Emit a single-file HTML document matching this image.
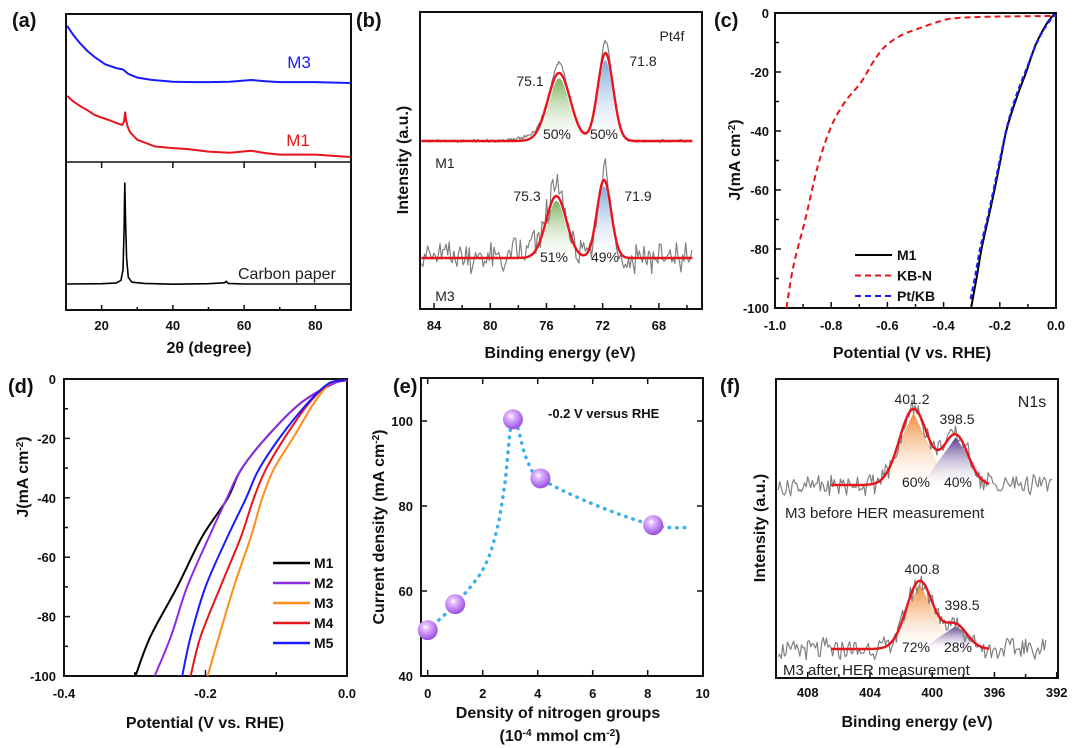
<!DOCTYPE html>
<html><head><meta charset="utf-8"><style>
html,body{margin:0;padding:0;background:#fff;}
svg{display:block;font-family:"Liberation Sans",Arial,sans-serif;}
.tk{font-weight:bold;font-size:13px;fill:#111;}
.tt{font-weight:bold;font-size:16px;fill:#111;}
.pl{font-weight:bold;font-size:20px;fill:#111;}
.an{font-size:14px;fill:#222;}
.lg{font-weight:bold;font-size:14px;fill:#111;}
</style></head><body>
<svg id="fig" width="1080" height="748" viewBox="0 0 1080 748">
<defs>
<linearGradient id="gGreen" x1="0" y1="0" x2="0" y2="1"><stop offset="0" stop-color="#6fa84a" stop-opacity="0.9"/><stop offset="1" stop-color="#ffffff" stop-opacity="0.2"/></linearGradient>
<linearGradient id="gBlue" x1="0" y1="0" x2="0" y2="1"><stop offset="0" stop-color="#6f9fd6" stop-opacity="0.9"/><stop offset="1" stop-color="#ffffff" stop-opacity="0.2"/></linearGradient>
<linearGradient id="gOrange" x1="0" y1="0" x2="0" y2="1"><stop offset="0" stop-color="#f08228" stop-opacity="0.95"/><stop offset="1" stop-color="#ffffff" stop-opacity="0.2"/></linearGradient>
<linearGradient id="gPurple" x1="0" y1="0" x2="0" y2="1"><stop offset="0" stop-color="#4e3188" stop-opacity="0.95"/><stop offset="1" stop-color="#ffffff" stop-opacity="0.2"/></linearGradient>
<radialGradient id="gBall" cx="0.4" cy="0.35" r="0.65"><stop offset="0" stop-color="#ffffff"/><stop offset="0.25" stop-color="#e2b8ff"/><stop offset="1" stop-color="#9a4fe0"/></radialGradient>
</defs>
</svg>
<script>
// ---------- DATA ----------
// (a) XRD
const xrdM3X=[10.3,12,14,16,18,21,24,26,27.5,30,34,40,46,50,56,62,66,70,80,89.8];
const xrdM3Y=[92,86,80,75,71,66,63.5,62.5,59.5,57,55.5,54.2,54,54,54.2,55.4,54.6,54,54,53.4];
const xrdM1X=[10.3,12,14,16,18,20,22,24,25.8,26.3,26.6,26.9,27.3,28,30,35,40,44,50,56,62,66,70,80,89.8];
const xrdM1Y=[44.6,41,37.8,35,31.8,30,28.4,26.5,25,27.5,33.5,28,24,20,15,10.5,9.4,8.8,7,6.2,7.6,6,5,5,3.4];
const xrdCPX=[10.3,20,24,25.4,26,26.3,26.5,26.7,27,27.5,28.5,32,40,50,54.5,55,55.5,60,89.8];
const xrdCPY=[17.6,17.8,18.2,20,27,55,85.8,62,35,22,18.8,18,17.4,17.8,18.4,19.4,18,17.6,17.6];
const xrdTicks=[20,40,60,80];
// (b) Pt4f XPS fits
const ptCentersM1=[75.1,71.8], ptAmpM1=[68,88], ptSigM1=[0.8,0.55], ptBaseM1=167;
const ptCentersM3=[75.3,71.9], ptAmpM3=[62,78], ptSigM3=[0.72,0.5], ptBaseM3=50;
const ptTicks=[84,80,76,72,68], ptMinor=[82,78,74,70,66];
// (c) LSV
const cM1V=[-0.302,-0.283,-0.265,-0.242,-0.219,-0.198,-0.177,-0.155,-0.13,-0.106,-0.085,-0.069,-0.045,-0.025,-0.008,0];
const cM1J=[-100,-90,-80,-70,-60,-50,-40,-33,-26,-20,-14,-10,-5.5,-2.5,-0.6,-0.3];
const cKBNV=[-0.959,-0.935,-0.891,-0.848,-0.80,-0.75,-0.696,-0.65,-0.609,-0.55,-0.486,-0.42,-0.364,-0.25,-0.1,0];
const cKBNJ=[-100,-86,-69.5,-52,-38.5,-30,-23.8,-16.5,-11.4,-7.5,-5.2,-3,-1.8,-1.3,-1.1,-1.0];
const cPtV=[-0.304,-0.287,-0.27,-0.245,-0.222,-0.2,-0.178,-0.155,-0.13,-0.105,-0.085,-0.068,-0.045,-0.025,-0.01,0];
const cPtJ=[-97,-89,-80,-70,-60,-50,-40,-32,-25,-19,-14,-10,-5.8,-3,-1.2,-0.5];
const cYTicks=[0,-20,-40,-60,-80,-100], cXTicks=[-1.0,-0.8,-0.6,-0.4,-0.2,0.0];
// (d) LSV M1-M5
const dJ=[-100,-86.8,-70,-53.2,-40.3,-30.6,-19.4,-8.2,-1.5,-0.5];
const dM1=[-0.299,-0.278,-0.24,-0.205,-0.169,-0.150,-0.113,-0.066,-0.019,0];
const dM2=[-0.272,-0.249,-0.226,-0.195,-0.170,-0.150,-0.113,-0.066,-0.019,0];
const dM3=[-0.197,-0.181,-0.160,-0.136,-0.120,-0.104,-0.075,-0.047,-0.024,-0.004];
const dM4=[-0.221,-0.207,-0.179,-0.150,-0.132,-0.115,-0.087,-0.054,-0.025,-0.004];
const dM5=[-0.233,-0.221,-0.200,-0.169,-0.143,-0.125,-0.094,-0.056,-0.026,-0.004];
const dNames=['M1','M2','M3','M4','M5'];
const dColors=['#000000','#8b2be2','#ff8c1a','#e8141c','#1a1aff'];
const dXTicks=[-0.4,-0.2,0.0], dYTicks=[0,-20,-40,-60,-80,-100];
// (e) current density vs N density
const eDensity=[0,1,3.1,4.1,8.2];
const eCurrent=[50.8,56.9,100.4,86.5,75.5];
const eTrendX=[0,1,2,2.5,2.8,3.1,3.6,4.1,6,8.2,9.5];
const eTrendY=[50.8,56.9,65,74,85,100.4,91,86.5,80.5,75.5,74.9];
const eXTicks=[0,2,4,6,8,10], eYTicks=[40,60,80,100];
// (f) N1s XPS
const nCentersTop=[401.2,398.5], nAmpTop=[76,50], nSigTop=[0.9,0.8], nBaseTop=193;
const nCentersBot=[400.8,398.5], nAmpBot=[68,24], nSigBot=[0.85,0.75], nBaseBot=29;
const nTicks=[408,404,400,396,392];

// ---------- HELPERS ----------
const NS='http://www.w3.org/2000/svg';
const svg=document.getElementById('fig');
function mk(tag,attrs,parent){const e=document.createElementNS(NS,tag);for(const k in attrs)e.setAttribute(k,attrs[k]);(parent||svg).appendChild(e);return e;}
function lin(d0,d1,r0,r1){return v=>r0+(v-d0)*(r1-r0)/(d1-d0);}
function poly(xs,ys,sx,sy){return 'M'+xs.map((x,i)=>sx(x).toFixed(1)+','+sy(ys[i]).toFixed(1)).join(' L');}
function smooth(xs,ys,sx,sy){const P=xs.map((x,i)=>[sx(x),sy(ys[i])]);let d='M'+P[0][0].toFixed(1)+','+P[0][1].toFixed(1);
 for(let i=0;i<P.length-1;i++){const p0=P[Math.max(i-1,0)],p1=P[i],p2=P[i+1],p3=P[Math.min(i+2,P.length-1)];
 const c1=[p1[0]+(p2[0]-p0[0])/6,p1[1]+(p2[1]-p0[1])/6],c2=[p2[0]-(p3[0]-p1[0])/6,p2[1]-(p3[1]-p1[1])/6];
 d+=' C'+c1.map(v=>v.toFixed(1)).join(',')+' '+c2.map(v=>v.toFixed(1)).join(',')+' '+p2.map(v=>v.toFixed(1)).join(',');}return d;}
function noise(i,seed){const s=Math.sin(i*12.9898+seed*78.233)*43758.5453;return s-Math.floor(s)-0.5;}
function gauss(x,c,a,s){return a*Math.exp(-(x-c)*(x-c)/(2*s*s));}
function txt(x,y,str,cls,anchor,name,parent){const t=mk('text',{x:x,y:y,class:cls,'text-anchor':anchor||'start'},parent);t.textContent=str;
 
 
 return t;}
function frame(x0,y0,x1,y1,name){const r=mk('rect',{x:x0,y:y0,width:x1-x0,height:y1-y0,fill:'none',stroke:'#111','stroke-width':2});
 
 }
function tick(x1,y1,x2,y2,name){const l=mk('line',{x1:x1,y1:y1,x2:x2,y2:y2,stroke:'#111','stroke-width':1.5});
 
 }
function line(d,color,w,dash,name){const p=mk('path',{d:d,fill:'none',stroke:color,'stroke-width':w,'stroke-linejoin':'round'});
 if(dash)p.setAttribute('stroke-dasharray',dash);
 
 
 return p;}
function vlabel(x,y,parts,name){const t=mk('text',{x:x,y:y,class:'tt','text-anchor':'middle',transform:'rotate(-90 '+x+' '+y+')'});
 parts.forEach(p=>{const s=mk('tspan',p.sup?{'baseline-shift':'super','font-size':'10px'}:{},t);s.textContent=p.t;});
 
 }
function fmt(v,d){return (v<0?'-':'')+Math.abs(v).toFixed(d);}

// ---------- (a) ----------
(function(){
 const sx=lin(10,90,66,351), syU=v=>162-v*1.48, syL=v=>310-v*1.48;
 frame(66,14,351,310,'xrd-frame');
 tick(66,162,351,162,'xrd-divider');
 xrdTicks.forEach(v=>{tick(sx(v),162,sx(v),168,'xrd-divider-tick');tick(sx(v),310,sx(v),305,'xrd-x-tick');txt(sx(v),330,String(v),'tk','middle','xrd-x-tick-label');});
 [30,50,70].forEach(v=>{tick(sx(v),310,sx(v),307,'xrd-x-minor-tick');});
 line(poly(xrdM3X,xrdM3Y,sx,syU),'#1a1aff',2,null,'xrd-m3-line');
 line(poly(xrdM1X,xrdM1Y,sx,syU),'#e8141c',2,null,'xrd-m1-line');
 line(poly(xrdCPX,xrdCPY,sx,syL),'#000',1.6,null,'xrd-carbon-paper-line');
 const t1=txt(299,68,'M3','an','middle','xrd-m3-label');t1.style.fill='#1a1aff';t1.style.fontSize='17px';
 const t2=txt(298,146,'M1','an','middle','xrd-m1-label');t2.style.fill='#e8141c';t2.style.fontSize='17px';
 const t3=txt(238,279,'Carbon paper','an','start','xrd-carbon-paper-label');t3.style.fontSize='16px';
 txt(209,353,'2θ (degree)','tt','middle','xrd-x-axis-title');
 txt(12,27,'(a)','pl','start','panel-a-label');
})();

// ---------- (b) ----------
(function(){
 const sx=lin(85,65,420,701), sy=v=>308-v;
 frame(420,12,702,309,'pt4f-frame');
 ptTicks.forEach(v=>{tick(sx(v),309,sx(v),303,'pt4f-x-tick');txt(sx(v),330,String(v),'tk','middle','pt4f-x-tick-label');});
 ptMinor.forEach(v=>{tick(sx(v),309,sx(v),305,'pt4f-x-minor-tick');});
 function spectrum(C,A,S,base,noiseAmp,seed,tag,step){
  const fx=[],fy=[],rx=[],ry=[];
  for(let x=84.9;x>=65.6;x-=0.04){let f=base;for(let k=0;k<C.length;k++)f+=gauss(x,C[k],A[k],S[k]);fx.push(x);fy.push(f);}
  for(let x=84.9,i=0;x>=65.6;x-=step,i++){let f=base;for(let k=0;k<C.length;k++)f+=gauss(x,C[k],A[k],S[k]);
   let r=f+noiseAmp*(noise(i,seed)+0.6*noise(i+7,seed+3))+gauss(x,C[1],12,0.22)+gauss(x,C[0],10,0.3)+gauss(x,77,noiseAmp>5?6:4,0.9);
   rx.push(x);ry.push(r);}
  const fills=['url(#gGreen)','url(#gBlue)'];
  for(let k=0;k<C.length;k++){let d='M'+sx(C[k]+2.6).toFixed(1)+','+sy(base).toFixed(1);
   for(let x=C[k]+2.6;x>=C[k]-2.6;x-=0.05)d+=' L'+sx(x).toFixed(1)+','+sy(base+gauss(x,C[k],A[k]*0.92,S[k]*0.9)).toFixed(1);
   d+=' Z';const p=mk('path',{d:d,fill:fills[k],stroke:'none'});
   
   }
  line(poly(rx,ry,sx,sy),'#808080',1.2,null,'pt4f-'+tag+'-raw-spectrum');
  line(poly(fx,fy,sx,sy),'#e8141c',2.4,null,'pt4f-'+tag+'-fit');
 }
 spectrum(ptCentersM1,ptAmpM1,ptSigM1,ptBaseM1,2.5,1,'m1',0.06);
 spectrum(ptCentersM3,ptAmpM3,ptSigM3,ptBaseM3,26,2,'m3',0.11);
 txt(672,41,'Pt4f','an','middle','pt4f-title');
 txt(643,66,'71.8','an','middle','pt4f-m1-peak-718');
 txt(530,86,'75.1','an','middle','pt4f-m1-peak-751');
 txt(557,139,'50%','an','middle','pt4f-m1-pct-751');
 txt(604,139,'50%','an','middle','pt4f-m1-pct-718');
 txt(445,168,'M1','an','middle','pt4f-m1-label');
 txt(527,201,'75.3','an','middle','pt4f-m3-peak-753');
 txt(638,201,'71.9','an','middle','pt4f-m3-peak-719');
 txt(554,262,'51%','an','middle','pt4f-m3-pct-753');
 txt(605,262,'49%','an','middle','pt4f-m3-pct-719');
 txt(445,301,'M3','an','middle','pt4f-m3-label');
 vlabel(408,160,[{t:'Intensity (a.u.)'}],'pt4f-y-axis-title');
 txt(560,358,'Binding energy (eV)','tt','middle','pt4f-x-axis-title');
 txt(356,27,'(b)','pl','start','panel-b-label');
})();

// ---------- (c) ----------
(function(){
 const sx=lin(-1,0,775,1056), sy=lin(0,-100,13,308);
 frame(775,13,1056,308,'lsv-c-frame');
 cXTicks.forEach(v=>{tick(sx(v),308,sx(v),302,'lsv-c-x-tick');txt(sx(v),330,fmt(v,1),'tk','middle','lsv-c-x-tick-label');});
 cXTicks.slice(0,-1).forEach(v=>{tick(sx(v+0.1),308,sx(v+0.1),304,'lsv-c-x-minor-tick');});
 cYTicks.forEach(v=>{tick(775,sy(v),781,sy(v),'lsv-c-y-tick');txt(769,sy(v)+5,String(v),'tk','end','lsv-c-y-tick-label');});
 cYTicks.slice(0,-1).forEach(v=>{tick(775,sy(v-10),779,sy(v-10),'lsv-c-y-minor-tick');});
 line(smooth(cKBNV,cKBNJ,sx,sy),'#e8141c',2,'6 4','lsv-c-kbn-line');
 line(smooth(cM1V,cM1J,sx,sy),'#000',2,null,'lsv-c-m1-line');
 line(smooth(cPtV,cPtJ,sx,sy),'#1a1aff',2.2,'5 3','lsv-c-ptkb-line');
 const L=[['M1','#000',null],['KB-N','#e8141c','6 4'],['Pt/KB','#1a1aff','6 4']];
 L.forEach((r,i)=>{const y=255+i*20.5;line('M855,'+y+' L892,'+y,r[1],2,r[2],'legend-line-'+r[0].toLowerCase());txt(897,y+5,r[0],'lg','start','legend-entry-'+r[0].toLowerCase());});
 vlabel(740,160,[{t:'J(mA cm'},{t:'-2',sup:true},{t:')'}],'lsv-c-y-axis-title');
 txt(912,358,'Potential (V vs. RHE)','tt','middle','lsv-c-x-axis-title');
 txt(714,27,'(c)','pl','start','panel-c-label');
})();

// ---------- (d) ----------
(function(){
 const sx=lin(-0.4,0,64,347), sy=lin(0,-100,379,676);
 frame(64,379,347,676,'lsv-d-frame');
 dXTicks.forEach(v=>{tick(sx(v),676,sx(v),670,'lsv-d-x-tick');txt(sx(v),698,fmt(v,1),'tk','middle','lsv-d-x-tick-label');});
 [-0.3,-0.1].forEach(v=>{tick(sx(v),676,sx(v),672,'lsv-d-x-minor-tick');});
 dYTicks.forEach(v=>{tick(64,sy(v),70,sy(v),'lsv-d-y-tick');txt(56,sy(v)+5,String(v),'tk','end','lsv-d-y-tick-label');});
 dYTicks.slice(0,-1).forEach(v=>{tick(64,sy(v-10),68,sy(v-10),'lsv-d-y-minor-tick');});
 const series=[dM1,dM2,dM3,dM4,dM5];
 series.forEach((s,i)=>{line(smooth(s,dJ,sx,sy),dColors[i],2,null,'lsv-d-'+dNames[i].toLowerCase()+'-line');});
 dNames.forEach((n,i)=>{const y=563+i*20;line('M273,'+y+' L310,'+y,dColors[i],2.5,null,'legend-line-d-'+n.toLowerCase());txt(314,y+5,n,'lg','start','legend-entry-d-'+n.toLowerCase());});
 vlabel(28,477,[{t:'J(mA cm'},{t:'-2',sup:true},{t:')'}],'lsv-d-y-axis-title');
 txt(205,728,'Potential (V vs. RHE)','tt','middle','lsv-d-x-axis-title');
 txt(8,393,'(d)','pl','start','panel-d-label');
})();

// ---------- (e) ----------
(function(){
 const sx=lin(0,10,427.7,702.7), sy=lin(40,100,676,421);
 frame(421,378,703,676,'density-frame');
 eXTicks.forEach(v=>{tick(sx(v),676,sx(v),670,'density-x-tick');tick(sx(v),378,sx(v),384,'density-x-top-tick');txt(sx(v),698,String(v),'tk','middle','density-x-tick-label');});
 eYTicks.forEach(v=>{tick(421,sy(v),427,sy(v),'density-y-tick');tick(703,sy(v),697,sy(v),'density-y-right-tick');txt(413,sy(v)+5,String(v),'tk','end','density-y-tick-label');});
 line(smooth(eTrendX,eTrendY,sx,sy),'#3cb0ec',3.5,'0.5 7','density-trend-line').setAttribute('stroke-linecap','round');
 eDensity.forEach((v,i)=>{const c=mk('circle',{cx:sx(v),cy:sy(eCurrent[i]),r:10,fill:'url(#gBall)'});
  
  });
 txt(548,418,'-0.2 V versus RHE','tk','start','density-annotation');
 vlabel(384,527,[{t:'Current density (mA cm'},{t:'-2',sup:true},{t:')'}],'density-y-axis-title');
 txt(558,718,'Density of nitrogen groups','tt','middle','density-x-axis-title');
 const t=mk('text',{x:560,y:741,class:'tt','text-anchor':'middle'});
 [['(10'],['-4',1],[' mmol cm'],['-2',1],[')']].forEach(p=>{const s=mk('tspan',p[1]?{'baseline-shift':'super','font-size':'10px'}:{},t);s.textContent=p[0];});
 
 
 txt(393,393,'(e)','pl','start','panel-e-label');
})();

// ---------- (f) ----------
(function(){
 const sx=lin(410,392,776.6,1056.7), sy=v=>678-v;
 frame(776,379,1058,678,'n1s-frame');
 nTicks.forEach(v=>{tick(sx(v),678,sx(v),672,'n1s-x-tick');txt(sx(v),697,String(v),'tk','middle','n1s-x-tick-label');});
 [406,402,398,394].forEach(v=>{tick(sx(v),678,sx(v),674,'n1s-x-minor-tick');});
 function spectrum(C,A,S,base,seed,x1,tag){
  const fills=['url(#gOrange)','url(#gPurple)'];
  for(let k=0;k<C.length;k++){let d='M'+sx(C[k]+2.2).toFixed(1)+','+sy(base).toFixed(1);
   for(let x=C[k]+2.2;x>=C[k]-2.2;x-=0.05)d+=' L'+sx(x).toFixed(1)+','+sy(base+Math.max(0,A[k]*0.95*(1-Math.abs(x-C[k])/2.2))).toFixed(1);
   d+=' Z';const p=mk('path',{d:d,fill:fills[k],stroke:'none'});
   
   }
  const rx=[],ry=[],fx=[],fy=[];
  for(let x=409.9,i=0;x>=x1;x-=0.1,i++){let f=base;for(let k=0;k<C.length;k++)f+=gauss(x,C[k],A[k],S[k]);
   rx.push(x);ry.push(f+17*(noise(i,seed)+0.5*noise(i+5,seed+9)));}
  for(let x=406.5;x>=396.3;x-=0.04){let f=base;for(let k=0;k<C.length;k++)f+=gauss(x,C[k],A[k],S[k]);fx.push(x);fy.push(f);}
  line(poly(rx,ry,sx,sy),'#808080',1.2,null,'n1s-'+tag+'-raw-spectrum');
  line(poly(fx,fy,sx,sy),'#e8141c',2.4,null,'n1s-'+tag+'-fit');
 }
 spectrum(nCentersTop,nAmpTop,nSigTop,nBaseTop,4,392.2,'before');
 spectrum(nCentersBot,nAmpBot,nSigBot,nBaseBot,5,392.6,'after');
 txt(1032,407,'N1s','an','middle','n1s-title').style.fontSize='16px';
 txt(912,404,'401.2','an','middle','n1s-before-peak-4012');
 txt(957,424,'398.5','an','middle','n1s-before-peak-3985');
 txt(916,487,'60%','an','middle','n1s-before-pct-4012');
 txt(958,487,'40%','an','middle','n1s-before-pct-3985');
 txt(785,518,'M3 before HER measurement','an','start','n1s-before-label').style.fontSize='15px';
 txt(922,574,'400.8','an','middle','n1s-after-peak-4008');
 txt(962,610,'398.5','an','middle','n1s-after-peak-3985');
 txt(916,652,'72%','an','middle','n1s-after-pct-4008');
 txt(958,652,'28%','an','middle','n1s-after-pct-3985');
 txt(783,675,'M3 after HER measurement','an','start','n1s-after-label').style.fontSize='15px';
 vlabel(765,528,[{t:'Intensity (a.u.)'}],'n1s-y-axis-title');
 txt(917,727,'Binding energy (eV)','tt','middle','n1s-x-axis-title');
 txt(720,393,'(f)','pl','start','panel-f-label');
})();
</script>
</body></html>
